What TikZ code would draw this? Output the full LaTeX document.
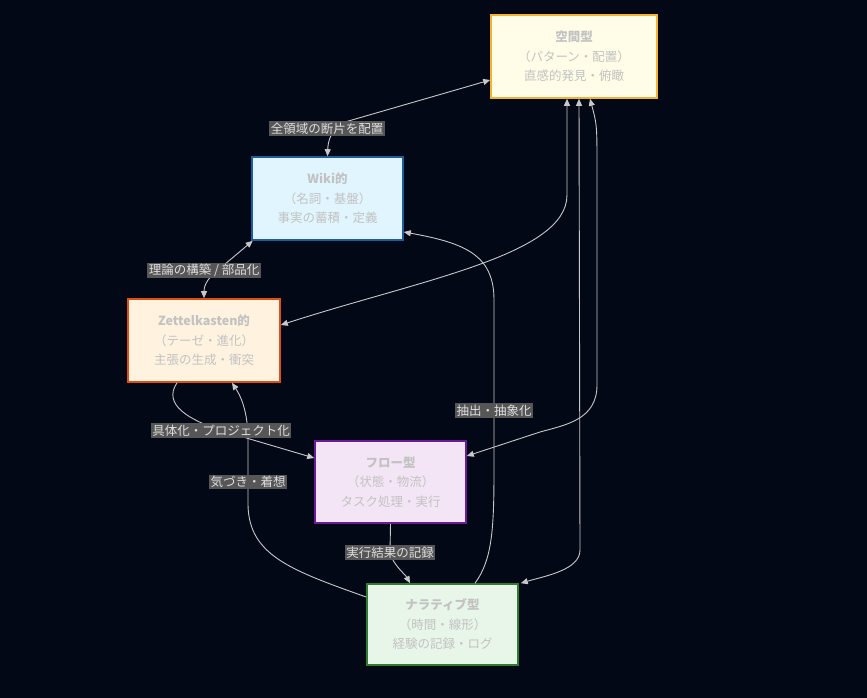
\documentclass[tikz,border=0pt]{standalone}
\usepackage{fontspec}
\setmainfont{Noto Sans CJK JP}
\usetikzlibrary{arrows.meta,calc}
\definecolor{bg}{HTML}{030816}
\definecolor{edgec}{HTML}{C8C8C8}
\definecolor{lblbg}{HTML}{565656}
\definecolor{lbltx}{HTML}{DEDEDE}
\definecolor{ntx}{HTML}{C2C2C2}
\definecolor{spf}{HTML}{FFFDE7}\definecolor{spd}{HTML}{F6B12E}
\definecolor{wkf}{HTML}{E1F5FE}\definecolor{wkd}{HTML}{1F5C9C}
\definecolor{zkf}{HTML}{FFF3E0}\definecolor{zkd}{HTML}{E04E12}
\definecolor{flf}{HTML}{F3E5F5}\definecolor{fld}{HTML}{6A1B9A}
\definecolor{nrf}{HTML}{E8F5E9}\definecolor{nrd}{HTML}{2E7D32}
\tikzset{
  box/.style={draw, line width=1.6pt, minimum width=151pt, minimum height=83pt,
    align=center, text=ntx, font=\fontsize{12.5}{19.5}\selectfont, inner sep=0pt},
  lbl/.style={fill=lblbg, text=lbltx, font=\fontsize{12.5}{14}\selectfont, inner xsep=1.5pt, inner ysep=1.5pt},
  edge/.style={draw=edgec, line width=0.9pt, arrows={-Triangle[length=7pt,width=6pt]}},
  edge2/.style={draw=edgec, line width=0.9pt, arrows={Triangle[length=7pt,width=6pt]-Triangle[length=7pt,width=6pt]}}
}
\begin{document}
\begin{tikzpicture}[x=1pt,y=-1pt]
\fill[bg] (0,0) rectangle (867,698);
\useasboundingbox (0,0) rectangle (867,698);
% nodes
\node[box, fill=spf, draw=spd, minimum width=166pt] (sp) at (574,56.5)
  {\textbf{空間型}\\（パターン・配置）\\直感的発見・俯瞰};
\node[box, fill=wkf, draw=wkd] (wiki) at (327.5,198.5)
  {\textbf{Wiki的}\\（名詞・基盤）\\事実の蓄積・定義};
\node[box, fill=zkf, draw=zkd, minimum width=152pt] (zk) at (204,340.5)
  {\textbf{Zettelkasten的}\\（テーゼ・進化）\\主張の生成・衝突};
\node[box, fill=flf, draw=fld, minimum height=82pt] (flow) at (390.5,482)
  {\textbf{フロー型}\\（状態・物流）\\タスク処理・実行};
\node[box, fill=nrf, draw=nrd, minimum height=81pt] (narr) at (442.5,624.5)
  {\textbf{ナラティブ型}\\（時間・線形）\\経験の記録・ログ};
% label positions
\coordinate (c1) at (327,128.5);
\coordinate (c2) at (204,270.5);
\coordinate (c3) at (221,430.5);
\coordinate (c4) at (248,482);
\coordinate (c5) at (390,552.5);
\coordinate (c6) at (494,410.5);
% edges
\draw[edge2] ([yshift=-23.5pt]sp.west) -- (345,122) .. controls (330,130) and (328,142) .. (wiki.north);
\draw[edge2] ([xshift=1.5pt]wiki.south west) -- (218,270) .. controls (205,280) and (204,288) .. (zk.north);
\draw[edge2] ([xshift=-7pt]sp.south) -- (567,195) .. controls (567,255) and (420,280) .. ([yshift=15.5pt]zk.east);
\draw[edge] ([xshift=-27pt]zk.south) .. controls (162,405) and (190,420) .. (c3) -- ([yshift=24pt]flow.west);
\draw[edge] ([yshift=27.5pt]narr.west) .. controls (290,570) and (249,555) .. (248,505) -- (248,440) .. controls (248,410) and (240,395) .. ([xshift=28pt]zk.south);
\draw[edge] (flow.south) -- (c5) .. controls (393,565) and (405,574) .. ([xshift=-32.5pt]narr.north);
\draw[edge] ([xshift=32.5pt]narr.north) .. controls (492,560) and (494,530) .. (494,470) -- (494,300) .. controls (494,255) and (465,243) .. ([yshift=-33.5pt]wiki.east);
\draw[edge2] ([xshift=16pt]sp.south) .. controls (597,125) .. (597,170) -- (597,385) .. controls (597,420) and (565,425) .. (540,432) -- ([yshift=26pt]flow.east);
\draw[edge2] ([xshift=5pt]sp.south) -- (580,550) .. controls (580,570) and (545,576) .. ([xshift=2pt]narr.north east);
% labels
\node[lbl] (l1) at (c1) {全領域の断片を配置};
\node[lbl] (l2) at (c2) {理論の構築 / 部品化};
\node[lbl] (l3) at (c3) {具体化・プロジェクト化};
\node[lbl] (l4) at (c4) {気づき・着想};
\node[lbl] (l5) at (c5) {実行結果の記録};
\node[lbl] (l6) at (c6) {抽出・抽象化};
\end{tikzpicture}
\end{document}
